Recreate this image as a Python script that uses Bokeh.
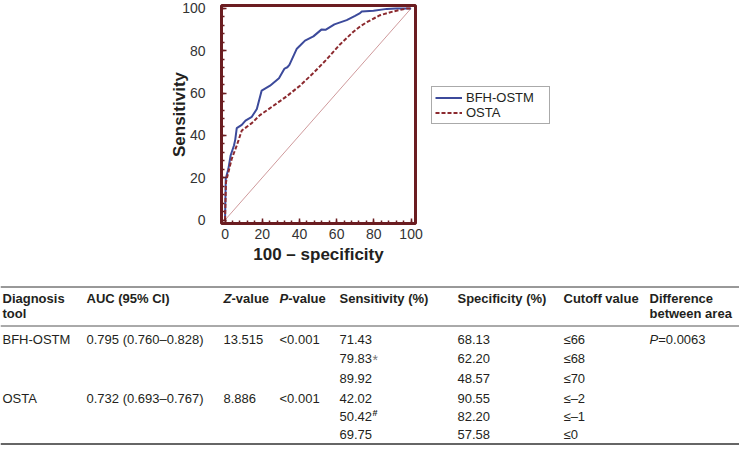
from bokeh.plotting import figure
from bokeh.models import Range1d, SingleIntervalTicker, ColumnDataSource
from bokeh.layouts import column
from bokeh.embed import file_html
from bokeh.resources import INLINE
from bokeh.core.properties import value

# ---------------- ROC data ----------------
bfh_x = [0, 0.4, 1.8, 3.0, 4.8, 5.5, 6.3, 9.0, 11.0, 14.4, 17.1, 19.7, 24.2, 29.0,
         32.0, 33.5, 34.6, 38.6, 40.5, 43.0, 47.5, 51.8, 54.0, 58.8, 65.4, 69.9,
         72.6, 73.5, 79.8, 87.0, 92.0, 100]
bfh_y = [0, 19.5, 24.2, 30.5, 35.2, 38.0, 43.4, 45.0, 47.0, 48.8, 52.5, 61.2, 63.5, 67.0,
         71.6, 72.2, 73.3, 81.0, 82.6, 84.8, 86.8, 90.0, 89.9, 92.5, 94.5, 96.5,
         97.8, 98.6, 98.9, 99.8, 100, 100]
osta_x = [0, 0.5, 1.8, 3.6, 6.3, 9.0, 14.4, 18.8, 26.0, 33.2, 40.3, 47.5, 54.7,
          61.8, 69.0, 72.6, 76.2, 83.3, 90.5, 97.7, 100]
osta_y = [0, 17.9, 22.6, 28.9, 35.2, 42.3, 45.8, 49.6, 54.0, 58.5, 63.5, 69.5, 76.0,
          83.0, 89.0, 91.5, 93.5, 96.8, 98.6, 100, 100]
chance_x = [0, 100]
chance_y = [0, 100]
series_names = ["BFH-OSTM", "OSTA"]

# ---------------- Table data ----------------
tools = ["BFH-OSTM", "OSTA"]
auc_ci = ["0.795 (0.760\u20130.828)", "0.732 (0.693\u20130.767)"]
z_values = ["13.515", "8.886"]
p_values = ["<0.001", "<0.001"]
sensitivity = ["71.43", "79.83", "89.92", "42.02", "50.42", "69.75"]
sens_marks = ["", "*", "", "", "#", ""]
specificity = ["68.13", "62.20", "48.57", "90.55", "82.20", "57.58"]
cutoffs = ["\u226466", "\u226468", "\u226470", "\u2264\u20132", "\u2264\u20131", "\u22640"]
difference = "0.0063"

FONT = "Liberation Sans"
FRAME = "#6b1d21"
TXT = "#231f20"
W = 739
ROC_H = 280
H = 449
TOP = 5
FH = 218

# ---------------- ROC figure ----------------
p = figure(frame_width=194, frame_height=FH,
           x_range=Range1d(-1.9, 102.4), y_range=Range1d(-1.65, 101.4),
           min_border_left=221, min_border_right=W - 221 - 194, min_border_top=TOP,
           min_border_bottom=ROC_H - TOP - FH, output_backend="svg",
           toolbar_location=None, frame_align=False)
p.xgrid.visible = False
p.ygrid.visible = False
p.outline_line_color = FRAME
p.outline_line_width = 3
p.outline_line_alpha = 1

for ax, lab in ((p.xaxis[0], "100 \u2013 specificity"), (p.yaxis[0], "Sensitivity")):
    ax.ticker = SingleIntervalTicker(interval=20, num_minor_ticks=5)
    ax.axis_line_color = None
    ax.major_tick_in = 5
    ax.major_tick_out = 0
    ax.minor_tick_in = 3
    ax.minor_tick_out = 0
    ax.major_tick_line_color = FRAME
    ax.minor_tick_line_color = FRAME
    ax.major_tick_line_width = 1.5
    ax.minor_tick_line_width = 1.5
    ax.major_label_text_font = FONT
    ax.major_label_text_font_size = "14px"
    ax.major_label_text_color = "#333333"
    ax.axis_label = lab
    ax.axis_label_text_font = FONT
    ax.axis_label_text_font_size = "17px"
    ax.axis_label_text_font_style = "bold"
    ax.axis_label_text_color = TXT

p.yaxis[0].major_label_standoff = 16
p.yaxis[0].axis_label_standoff = -10
p.xaxis[0].major_label_standoff = 5
p.xaxis[0].axis_label_standoff = 3

p.line(chance_x, chance_y, line_color="#cf9a9c", line_width=1)
p.line(bfh_x, bfh_y, line_color="#3c4a9b", line_width=2, legend_label=series_names[0])
p.line(osta_x, osta_y, line_color="#8c2a2f", line_width=2, line_dash="4 2",
       legend_label=series_names[1])

lg = p.legend[0]
p.add_layout(lg, "right")
lg.location = (16, 99)
lg.border_line_color = "#555555"
lg.border_line_width = 1
lg.background_fill_color = "white"
lg.background_fill_alpha = 1
lg.label_text_font = FONT
lg.label_text_font_size = "13px"
lg.label_text_color = TXT
lg.glyph_width = 27
lg.glyph_height = 11
lg.label_height = 11
lg.label_width = 80
lg.label_standoff = 4
lg.spacing = 0
lg.padding = 3
lg.margin = 0

# ---------------- Table figure ----------------
t = figure(width=W, height=H - ROC_H, x_range=Range1d(0, W),
           y_range=Range1d(H, ROC_H), x_axis_type=None, y_axis_type=None,
           min_border=0, output_backend="svg", toolbar_location=None,
           frame_align=False)
t.outline_line_color = None
t.grid.visible = False

col_x = [2, 86, 223, 279, 339, 457, 563, 649]
head_y = [298, 313]
row_y = [339, 358, 378, 398, 416, 434]
rule_y = [286.5, 325.5, 443.5]

t.segment(x0=[0, 0, 0], x1=[W, W, W], y0=rule_y, y1=rule_y,
          line_color=["#333333", "#555555", "#333333"], line_width=[1, 1, 1.6])

def txt(xs, ys, texts, style="normal", color=TXT, size="13px"):
    src = ColumnDataSource(dict(x=xs, y=ys, text=texts))
    t.text(x="x", y="y", text="text", source=src, text_font=value(FONT),
           text_font_size=size, text_font_style=style, text_color=color,
           text_baseline="middle", text_align="left")

# header
txt([col_x[0], col_x[0], col_x[1], col_x[4], col_x[5], col_x[6], col_x[7], col_x[7]],
    [head_y[0], head_y[1], head_y[0], head_y[0], head_y[0], head_y[0], head_y[0], head_y[1]],
    ["Diagnosis", "tool", "AUC (95% CI)", "Sensitivity (%)", "Specificity (%)",
     "Cutoff value", "Difference", "between area"], style="bold")
txt([col_x[2], col_x[3]], [head_y[0], head_y[0]], ["Z", "P"], style="bold italic")
txt([col_x[2] + 8, col_x[3] + 8.7], [head_y[0], head_y[0]], ["-value", "-value"], style="bold")

# body
first_rows = [row_y[0], row_y[3]]
txt([col_x[0]] * 2, first_rows, tools)
txt([col_x[1]] * 2, first_rows, auc_ci)
txt([col_x[2]] * 2, first_rows, z_values)
txt([col_x[3]] * 2, first_rows, p_values)
txt([col_x[4]] * 6, row_y, sensitivity)
txt([col_x[5]] * 6, row_y, specificity)
txt([col_x[6]] * 6, row_y, cutoffs)
txt([col_x[7]], [row_y[0]], ["P"], style="italic")
txt([col_x[7] + 8.7], [row_y[0]], ["=" + difference])

# superscript marks
star_i = sens_marks.index("*")
hash_i = sens_marks.index("#")
txt([col_x[4] + 33], [row_y[star_i] + 1], ["*"], color="#777777", size="14px")
txt([col_x[4] + 33], [row_y[hash_i] - 4], ["#"], style="bold", size="9px")

layout = column(p, t, spacing=0)
open("out.html", "w").write(file_html(layout, INLINE))
